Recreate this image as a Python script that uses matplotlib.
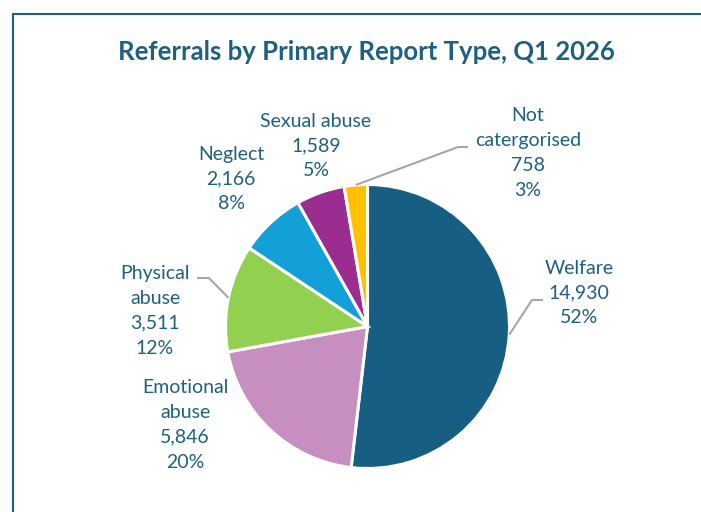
import numpy as np
import matplotlib.pyplot as plt
from matplotlib.lines import Line2D

# Referral counts by primary report type
categories = ['Welfare', 'Emotional\nabuse', 'Physical\nabuse', 'Neglect', 'Sexual abuse', 'Not\ncatergorised']
counts = [14930, 5846, 3511, 2166, 1589, 758]
percent_labels = ['52%', '20%', '12%', '8%', '5%', '3%']
colours = ['#175f82', '#c78fc0', '#92d050', '#12a0d7', '#9b2d90', '#ffc000']

TXT = '#1f5f80'
W, H = 701, 512
cx, cy, R = 367.5, 326.5, 142.0   # pie centre / radius in pixels

def to_data(px, py):
    return (px - cx) / R, (cy - py) / R

fig = plt.figure(figsize=(W / 100, H / 100), dpi=100)
ax = fig.add_axes([0, 0, 1, 1])
ax.axis('off')

wedges, _ = ax.pie(counts, colors=colours, startangle=90, counterclock=False,
                   radius=1.0, center=(0, 0), frame=False,
                   wedgeprops=dict(edgecolor='white', linewidth=2.2))
ax.set_xlim(-cx / R, (W - cx) / R)
ax.set_ylim(-(H - cy) / R, cy / R)
ax.set_aspect('equal')

# label centres (pixels)
label_pos = [(579, 293), (185, 425), (155, 311), (231, 179), (316, 146), (528, 153)]
for cat, n, p, (px, py) in zip(categories, counts, percent_labels, label_pos):
    x, y = to_data(px, py)
    ax.text(x, y, '{}\n{:,}\n{}'.format(cat, n, p), ha='center', va='center',
            fontsize=14, color=TXT, family='Lato', linespacing=1.55)

# leader lines: from wedge midpoint to elbow then horizontal
leaders = {0: [(532, 300), (543, 300)],
           2: [(209, 278), (197, 278)],
           5: [(458, 147), (468, 147)]}
for i, pts in leaders.items():
    w = wedges[i]
    mid = np.deg2rad((w.theta1 + w.theta2) / 2)
    xs = [np.cos(mid)] + [to_data(*q)[0] for q in pts]
    ys = [np.sin(mid)] + [to_data(*q)[1] for q in pts]
    ax.plot(xs, ys, color='#a6a6a6', linewidth=1.5, solid_capstyle='butt')

fig.text(366 / W, 1 - 52 / H, 'Referrals by Primary Report Type, Q1 2026',
         ha='center', va='center', fontsize=18.5, fontweight='bold',
         color=TXT, family='Lato')

# chart frame (cropped on right/bottom)
bx, by = 13.5 / W, 1 - 13.5 / H
fig.add_artist(Line2D([bx, 1.01], [by, by], color=TXT, linewidth=1.5, transform=fig.transFigure))
fig.add_artist(Line2D([bx, bx], [by, -0.01], color=TXT, linewidth=1.5, transform=fig.transFigure))

fig.savefig('out.png', dpi=100)
